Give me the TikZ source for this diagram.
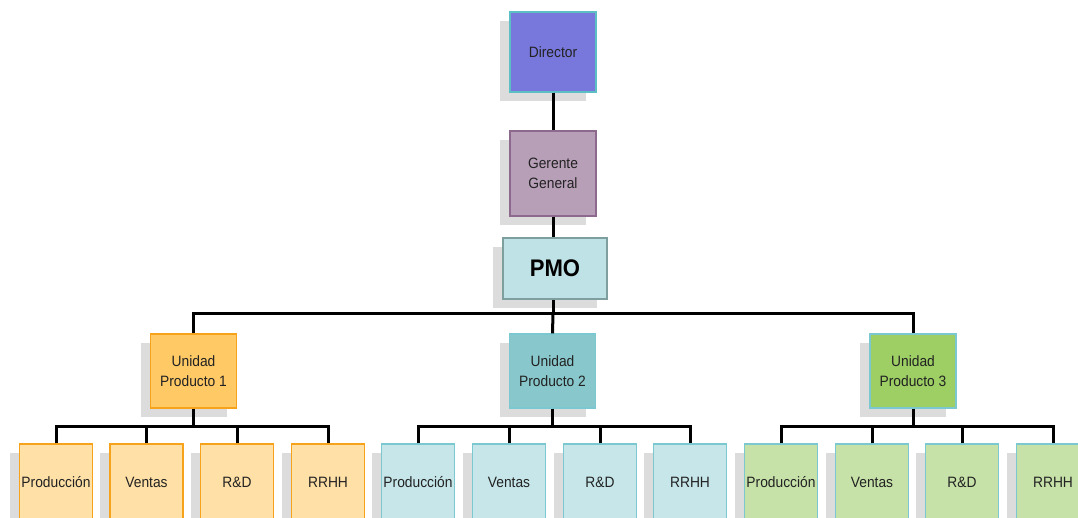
\documentclass[tikz,border=0pt]{standalone}
\usepackage{fontspec}
\setmainfont{Liberation Sans}[FakeStretch=0.92]
\usetikzlibrary{shadows}
\definecolor{dirfill}{HTML}{7878DC}
\definecolor{dirline}{HTML}{5CBFC4}
\definecolor{ggfill}{HTML}{B89FB8}
\definecolor{ggline}{HTML}{8D6A8D}
\definecolor{pmofill}{HTML}{BFE2E6}
\definecolor{pmoline}{HTML}{7F9E9E}
\definecolor{uoneFill}{HTML}{FFC966}
\definecolor{orangeline}{HTML}{F7A21B}
\definecolor{uoneKid}{HTML}{FFE0A6}
\definecolor{utwoFill}{HTML}{88C8CC}
\definecolor{cyanline}{HTML}{7CC8D0}
\definecolor{utwoKid}{HTML}{C6E6E9}
\definecolor{uthreeFill}{HTML}{9DCF64}
\definecolor{uthreeKid}{HTML}{C6E2A8}
\definecolor{shade}{HTML}{DCDCDC}
\definecolor{ink}{HTML}{222222}
\tikzset{
  box/.style={draw, line width=1.2pt, text=ink, align=center, inner sep=0pt,
    font=\fontsize{15}{20}\selectfont,
    drop shadow={shadow xshift=-10pt, shadow yshift=-9pt, fill=shade, opacity=1}},
  topbox/.style={box, minimum width=86pt, minimum height=80pt},
  unitbox/.style={box, minimum width=86pt, minimum height=74pt},
  kidbox/.style={box, minimum width=73pt, minimum height=76pt},
  link/.style={draw=black, line width=3pt},
}
\begin{document}
\begin{tikzpicture}[x=1pt,y=-1pt]
\useasboundingbox (0,0) rectangle (1078,517);
\clip (0,0) rectangle (1078,517);

% top of the chart
\node[topbox, fill=dirfill, draw=dirline] (dir) at (553,52) {Director};
\node[box, fill=ggfill, draw=ggline, minimum width=86pt, minimum height=85pt] (gg) at (553,173.5) {Gerente\\General};
\node[box, fill=pmofill, draw=pmoline, line width=2.5pt, minimum width=104pt, minimum height=61pt,
      font=\fontsize{24}{26}\selectfont\bfseries, text=black] (pmo) at (555,268.5) {PMO};

% product units
\node[unitbox, fill=uoneFill, draw=orangeline] (u1) at (193.5,371) {Unidad\\Producto 1};
\node[unitbox, fill=utwoFill, draw=cyanline] (u2) at (552.5,371) {Unidad\\Producto 2};
\node[unitbox, fill=uthreeFill, draw=cyanline] (u3) at (913,371) {Unidad\\Producto 3};

% departments of unit 1
\node[kidbox, fill=uoneKid, draw=orangeline] (a1) at (56,482) {Producción};
\node[kidbox, fill=uoneKid, draw=orangeline] (a2) at (146.5,482) {Ventas};
\node[kidbox, fill=uoneKid, draw=orangeline] (a3) at (237,482) {R\&D};
\node[kidbox, fill=uoneKid, draw=orangeline] (a4) at (328,482) {RRHH};
% departments of unit 2
\node[kidbox, fill=utwoKid, draw=cyanline] (b1) at (418,482) {Producción};
\node[kidbox, fill=utwoKid, draw=cyanline] (b2) at (509,482) {Ventas};
\node[kidbox, fill=utwoKid, draw=cyanline] (b3) at (600,482) {R\&D};
\node[kidbox, fill=utwoKid, draw=cyanline] (b4) at (690,482) {RRHH};
% departments of unit 3
\node[kidbox, fill=uthreeKid, draw=cyanline] (c1) at (781,482) {Producción};
\node[kidbox, fill=uthreeKid, draw=cyanline] (c2) at (872,482) {Ventas};
\node[kidbox, fill=uthreeKid, draw=cyanline] (c3) at (962,482) {R\&D};
\node[kidbox, fill=uthreeKid, draw=cyanline] (c4) at (1053,482) {RRHH};

% connectors
\draw[link] (dir.south) -- (gg.north);
\draw[link] (gg.south) -- (gg.south |- pmo.north);
\coordinate (bus) at (553,313);
\draw[link] (pmo.south -| bus) -- (bus);
\draw[link] (u1.north) |- (bus) -| (u3.north);
\draw[link] (bus) -- (u2.north);

\foreach \u/\k in {u1/a, u2/b, u3/c}{
  \draw[link] (\u.south) -- ++(0,18) coordinate (\u-fork);
  \draw[link] (\k1.north) |- (\u-fork) -| (\k4.north);
  \draw[link] (\k2.north) -- (\k2.north |- \u-fork);
  \draw[link] (\k3.north) -- (\k3.north |- \u-fork);
}
\end{tikzpicture}
\end{document}
